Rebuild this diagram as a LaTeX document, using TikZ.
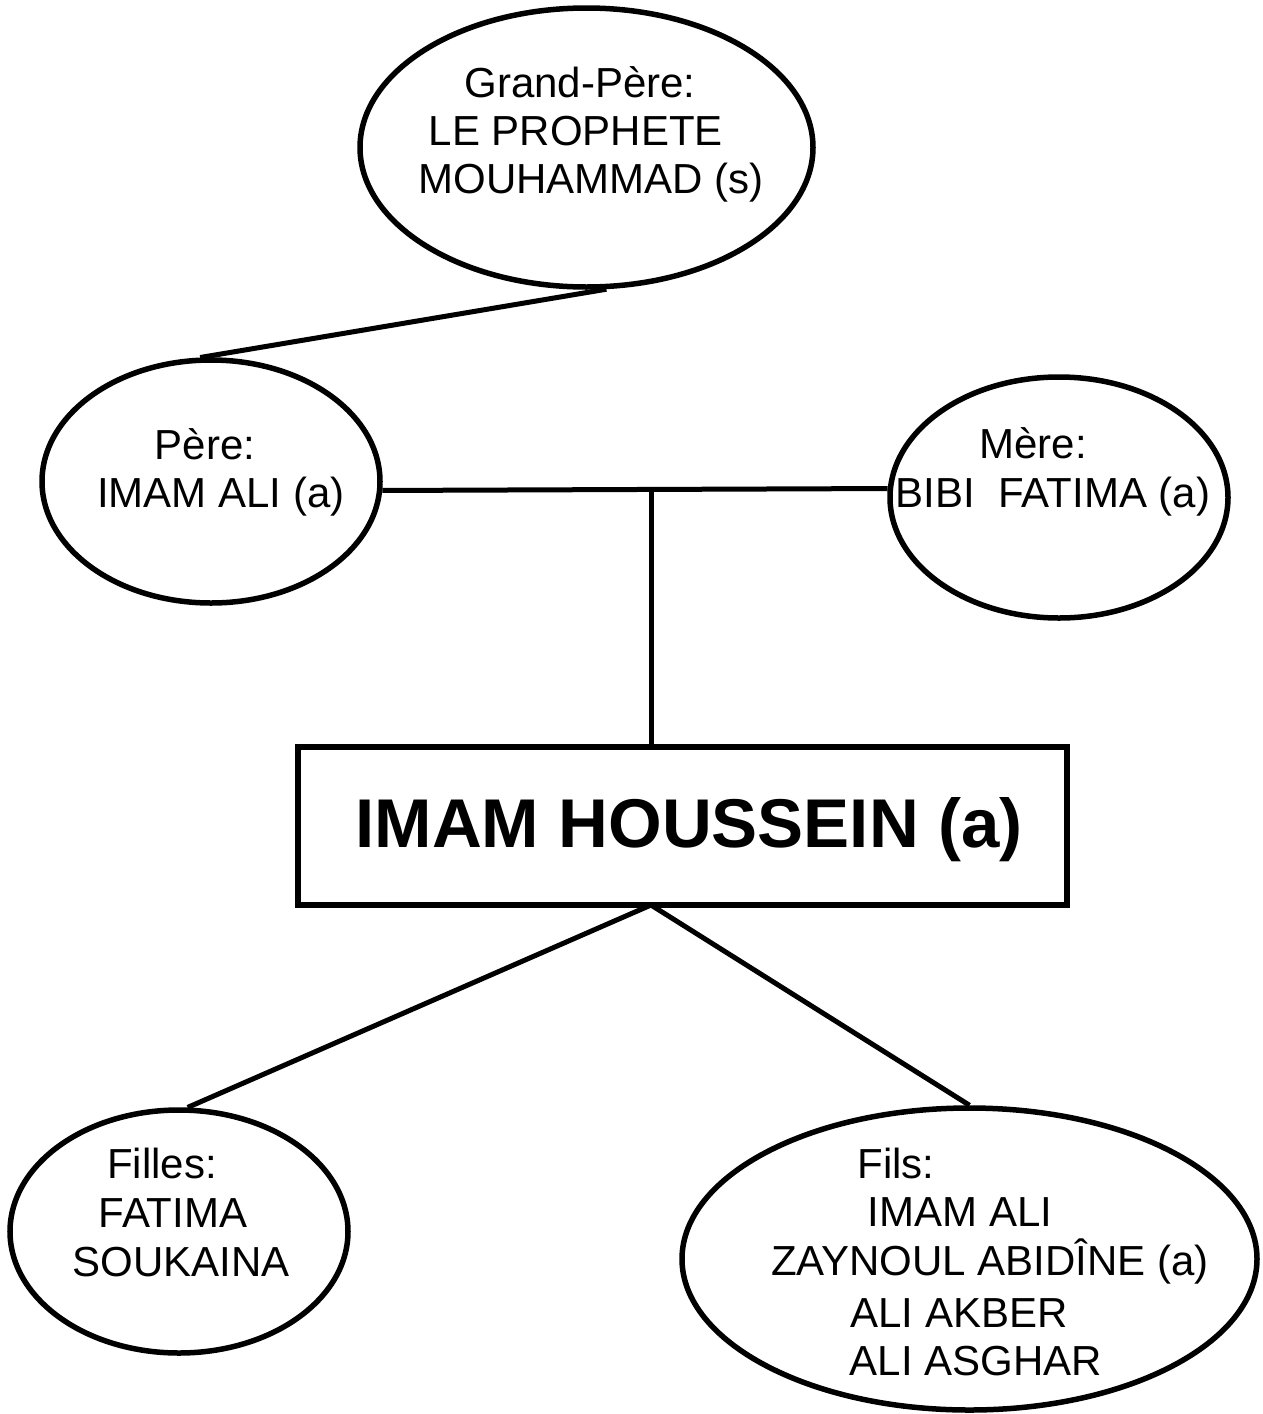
\documentclass[tikz,border=0pt]{standalone}
\usepackage{fontspec}
\setmainfont{Liberation Sans}
\usetikzlibrary{shapes.geometric}
\begin{document}
\begin{tikzpicture}[x=1pt,y=-1pt,
  oval/.style={ellipse, draw, line width=5.5pt, inner sep=0pt},
  box/.style={rectangle, draw, line width=6pt, inner sep=0pt},
  link/.style={line width=5pt},
  lbl/.style={anchor=base, inner sep=0pt, font=\fontsize{42}{48}\selectfont},
  title/.style={anchor=base, inner sep=0pt, font=\fontsize{69}{80}\selectfont\bfseries}]
\useasboundingbox (0,0) rectangle (1263,1414);
% shapes
\node[oval, minimum width=453pt, minimum height=279pt] (gp) at (586.5,147.5) {};
\node[oval, minimum width=338pt, minimum height=243pt] (pere) at (211,481.5) {};
\node[oval, minimum width=338pt, minimum height=241pt] (mere) at (1059,497.5) {};
\node[box, minimum width=769pt, minimum height=158pt] (hous) at (682.5,826) {};
\node[oval, minimum width=338pt, minimum height=243pt] (filles) at (179,1231.5) {};
\node[oval, minimum width=575pt, minimum height=302pt] (fils) at (969.5,1259) {};
% texts
\node[lbl] (gp1) at (580,97) {Grand-Père:};
\node[lbl] (gp2) at (576,145) {LE PROPHETE};
\node[lbl] (gp3) at (591,193) {MOUHAMMAD (s)};
\node[lbl] (pe1) at (205,459) {Père:};
\node[lbl] (pe2) at (221,507) {IMAM ALI (a)};
\node[lbl] (me1) at (1033,458) {Mère:};
\node[lbl] (me2) at (1053,507) {BIBI\ \ FATIMA (a)};
\node[title] (ti) at (689,847) {IMAM HOUSSEIN (a)};
\node[lbl] (fi1) at (162,1178) {Filles:};
\node[lbl] (fi2) at (173,1227) {FATIMA};
\node[lbl] (fi3) at (181,1276) {SOUKAINA};
\node[lbl] (fs1) at (896,1178) {Fils:};
\node[lbl] (fs2) at (960,1226) {IMAM ALI};
\node[lbl] (fs3) at (990,1275) {ZAYNOUL ABIDÎNE (a)};
\node[lbl] (fs4) at (959,1327) {ALI AKBER};
\node[lbl] (fs5) at (976,1375) {ALI ASGHAR};
% connectors
\coordinate (j) at (651,490);
\coordinate (k) at (651,905);
\draw[link] (gp.-82) -- (pere.95);
\draw[link] (pere.-3) -- (mere.177);
\draw[link] (j) -- (j |- hous.north);
\draw[link] (k) -- (filles.86);
\draw[link] (k) -- (fils.north);
\end{tikzpicture}
\end{document}
